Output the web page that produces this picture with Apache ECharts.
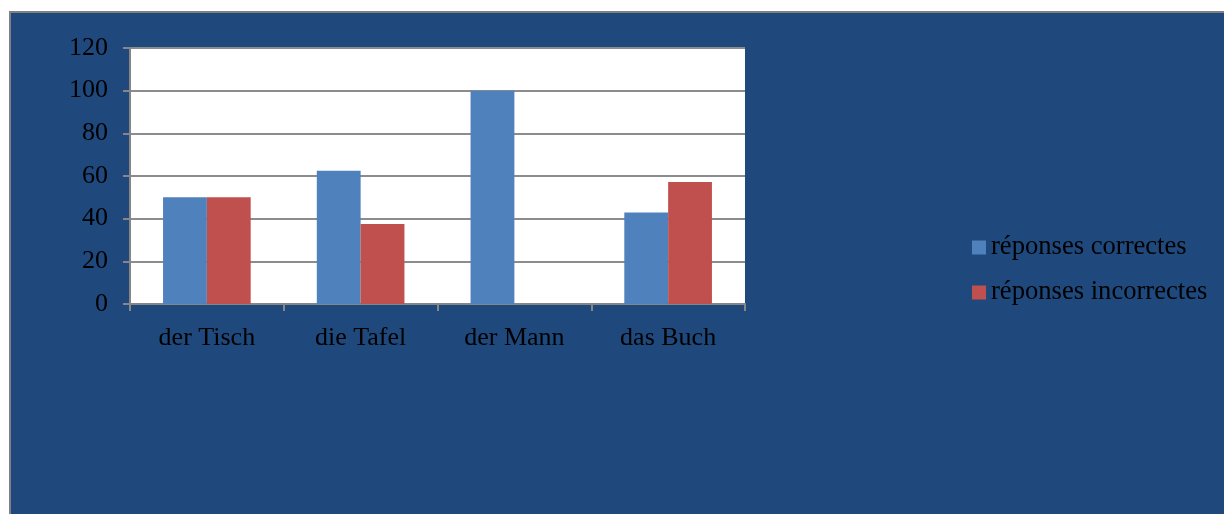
<!DOCTYPE html>
<html>
<head>
<meta charset="utf-8">
<script src="https://cdn.jsdelivr.net/npm/echarts@6/dist/echarts.min.js"></script>
<style>
  html, body { margin: 0; padding: 0; background: #ffffff; }
  #chart { width: 1224px; height: 514px; }
</style>
</head>
<body>
<div id="chart"></div>
<script>
// Word categories and percentages of answers
const categories = ['der Tisch', 'die Tafel', 'der Mann', 'das Buch'];
const correctValues = [50, 62.5, 100, 42.86];
const incorrectValues = [50, 37.5, 0, 57.14];
const seriesNames = ['réponses correctes', 'réponses incorrectes'];
const yTicks = { min: 0, max: 120, interval: 20 };

const FONT = '"Liberation Serif", "Times New Roman", serif';
const chart = echarts.init(document.getElementById('chart'), null, { renderer: 'canvas' });

chart.setOption({
  backgroundColor: '#ffffff',
  animation: false,
  graphic: [{
    type: 'rect',
    z: -10,
    shape: { x: 10, y: 12, width: 1230, height: 520 },
    style: { fill: '#1F497D', stroke: '#808080', lineWidth: 2 }
  }],
  grid: {
    left: 130, right: 479, top: 48, bottom: 210,
    show: true, backgroundColor: '#ffffff', borderWidth: 0
  },
  legend: {
    orient: 'vertical',
    left: 967, top: 229,
    itemWidth: 14, itemHeight: 14, itemGap: 18,
    icon: 'rect',
    itemStyle: { borderWidth: 0 },
    textStyle: { fontFamily: FONT, fontSize: 26.6, color: '#000000' },
    data: seriesNames
  },
  xAxis: {
    type: 'category',
    data: categories,
    axisLine: { show: true, lineStyle: { color: '#868686', width: 2 } },
    axisTick: { show: true, length: 7, lineStyle: { color: '#868686', width: 2 } },
    axisLabel: { fontFamily: FONT, fontSize: 26, color: '#000000', margin: 21 }
  },
  yAxis: {
    type: 'value',
    min: yTicks.min, max: yTicks.max, interval: yTicks.interval,
    axisLine: { show: true, lineStyle: { color: '#868686', width: 2 } },
    axisTick: { show: true, length: 7, lineStyle: { color: '#868686', width: 2 } },
    axisLabel: { fontFamily: FONT, fontSize: 26, color: '#000000', margin: 22, padding: [4, 0, 0, 0] },
    splitLine: { show: true, lineStyle: { color: '#8c8c8c', width: 2 } }
  },
  series: [
    {
      name: seriesNames[0], type: 'bar', data: correctValues,
      barGap: '0%', barCategoryGap: '43%',
      itemStyle: { color: '#4F81BD' }
    },
    {
      name: seriesNames[1], type: 'bar', data: incorrectValues,
      barGap: '0%', barCategoryGap: '43%',
      itemStyle: { color: '#C0504D' }
    }
  ]
});
</script>
</body>
</html>
